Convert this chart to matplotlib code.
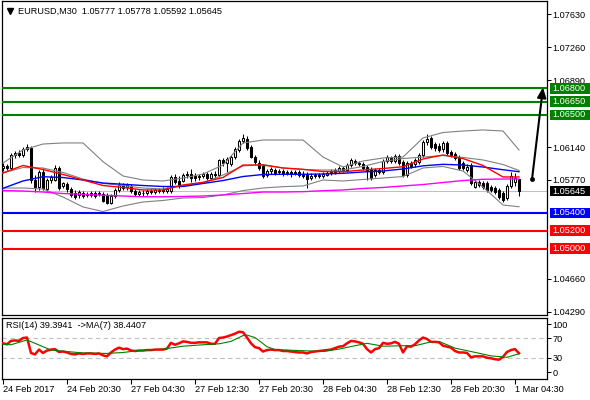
import matplotlib
matplotlib.use('Agg')
import matplotlib.pyplot as plt
from matplotlib.patches import Rectangle
from matplotlib.lines import Line2D
import matplotlib.transforms as mtransforms
import numpy as np

# ---------------- data ----------------
symbol = "EURUSD,M30"
opens = [1.05905, 1.05927, 1.05905, 1.06051, 1.06073, 1.06051, 1.06118, 1.06129, 1.05770, 1.05691,
         1.05860, 1.05669, 1.05770, 1.05770, 1.05905, 1.05703, 1.05725, 1.05669, 1.05624, 1.05602,
         1.05624, 1.05602, 1.05602, 1.05624, 1.05613, 1.05613, 1.05602, 1.05512, 1.05590, 1.05658,
         1.05714, 1.05691, 1.05703, 1.05646, 1.05613, 1.05624, 1.05624, 1.05646, 1.05635, 1.05646,
         1.05658, 1.05646, 1.05646, 1.05804, 1.05759, 1.05759, 1.05826, 1.05837, 1.05815, 1.05804,
         1.05815, 1.05837, 1.05792, 1.05837, 1.05826, 1.05995, 1.05961, 1.05950, 1.06028, 1.06107,
         1.06208, 1.06230, 1.06141, 1.06028, 1.05961, 1.05927, 1.05826, 1.05871, 1.05882, 1.05860,
         1.05871, 1.05849, 1.05860, 1.05849, 1.05860, 1.05837, 1.05826, 1.05792, 1.05815, 1.05826,
         1.05815, 1.05826, 1.05849, 1.05860, 1.05871, 1.05905, 1.05882, 1.05938, 1.05983, 1.05961,
         1.05950, 1.05916, 1.05894, 1.05826, 1.05882, 1.05860, 1.05983, 1.06017, 1.05983, 1.06040,
         1.05972, 1.05826, 1.05961, 1.05950, 1.05972, 1.06051, 1.06197, 1.06242, 1.06174, 1.06152,
         1.06118, 1.06186, 1.06084, 1.06062, 1.06017, 1.05961, 1.05882, 1.05938, 1.05691, 1.05748,
         1.05736, 1.05736, 1.05691, 1.05680, 1.05658, 1.05624, 1.05568, 1.05703, 1.05748, 1.05777]
highs = [1.05961, 1.05950, 1.06073, 1.06096, 1.06107, 1.06141, 1.06174, 1.06152, 1.05826, 1.05882,
         1.05905, 1.05792, 1.05826, 1.05938, 1.05927, 1.05748, 1.05748, 1.05691, 1.05658, 1.05658,
         1.05646, 1.05635, 1.05646, 1.05646, 1.05646, 1.05635, 1.05624, 1.05613, 1.05680, 1.05748,
         1.05736, 1.05736, 1.05725, 1.05669, 1.05658, 1.05658, 1.05669, 1.05669, 1.05680, 1.05680,
         1.05691, 1.05691, 1.05826, 1.05837, 1.05815, 1.05849, 1.05871, 1.05894, 1.05849, 1.05837,
         1.05860, 1.05860, 1.05860, 1.05871, 1.06006, 1.06017, 1.06028, 1.06051, 1.06141, 1.06230,
         1.06287, 1.06264, 1.06163, 1.06051, 1.05995, 1.05950, 1.05894, 1.05916, 1.05905, 1.05894,
         1.05894, 1.05882, 1.05882, 1.05882, 1.05882, 1.05871, 1.05860, 1.05849, 1.05849, 1.05849,
         1.05860, 1.05871, 1.05894, 1.05905, 1.05927, 1.05927, 1.05961, 1.06017, 1.06006, 1.05983,
         1.05972, 1.05938, 1.05916, 1.05905, 1.05905, 1.06006, 1.06051, 1.06040, 1.06062, 1.06062,
         1.05995, 1.05983, 1.05983, 1.06017, 1.06073, 1.06219, 1.06287, 1.06264, 1.06197, 1.06186,
         1.06208, 1.06208, 1.06107, 1.06084, 1.06051, 1.05983, 1.05950, 1.05961, 1.05770, 1.05770,
         1.05759, 1.05759, 1.05714, 1.05703, 1.05680, 1.05646, 1.05725, 1.05860, 1.05849, 1.05778]
lows = [1.05871, 1.05882, 1.05882, 1.06017, 1.06028, 1.06028, 1.06096, 1.05736, 1.05635, 1.05658,
        1.05658, 1.05646, 1.05736, 1.05759, 1.05658, 1.05680, 1.05635, 1.05579, 1.05557, 1.05568,
        1.05568, 1.05579, 1.05579, 1.05568, 1.05590, 1.05523, 1.05500, 1.05500, 1.05568, 1.05635,
        1.05658, 1.05658, 1.05624, 1.05590, 1.05590, 1.05590, 1.05602, 1.05613, 1.05613, 1.05624,
        1.05624, 1.05624, 1.05624, 1.05725, 1.05680, 1.05748, 1.05792, 1.05748, 1.05759, 1.05770,
        1.05792, 1.05770, 1.05770, 1.05792, 1.05804, 1.05927, 1.05860, 1.05927, 1.06006, 1.06084,
        1.06186, 1.06107, 1.06017, 1.05950, 1.05882, 1.05792, 1.05804, 1.05837, 1.05826, 1.05837,
        1.05815, 1.05826, 1.05804, 1.05826, 1.05804, 1.05792, 1.05680, 1.05770, 1.05792, 1.05792,
        1.05792, 1.05815, 1.05826, 1.05837, 1.05849, 1.05860, 1.05860, 1.05916, 1.05938, 1.05927,
        1.05882, 1.05770, 1.05770, 1.05804, 1.05837, 1.05837, 1.05961, 1.05961, 1.05961, 1.05938,
        1.05804, 1.05804, 1.05905, 1.05916, 1.05950, 1.06028, 1.06163, 1.06118, 1.06096, 1.06084,
        1.06084, 1.06051, 1.06028, 1.05995, 1.05882, 1.05882, 1.05860, 1.05714, 1.05680, 1.05691,
        1.05669, 1.05635, 1.05635, 1.05613, 1.05557, 1.05523, 1.05545, 1.05680, 1.05703, 1.05592]
closes = [1.05927, 1.05905, 1.06051, 1.06073, 1.06051, 1.06118, 1.06141, 1.05770, 1.05691, 1.05860,
          1.05680, 1.05770, 1.05804, 1.05905, 1.05680, 1.05736, 1.05669, 1.05602, 1.05579, 1.05635,
          1.05590, 1.05613, 1.05624, 1.05590, 1.05624, 1.05534, 1.05512, 1.05590, 1.05658, 1.05714,
          1.05680, 1.05714, 1.05646, 1.05613, 1.05635, 1.05620, 1.05646, 1.05635, 1.05658, 1.05658,
          1.05646, 1.05669, 1.05804, 1.05748, 1.05714, 1.05826, 1.05837, 1.05792, 1.05792, 1.05815,
          1.05837, 1.05792, 1.05837, 1.05826, 1.05995, 1.05961, 1.06006, 1.06028, 1.06118, 1.06208,
          1.06242, 1.06129, 1.06028, 1.05972, 1.05905, 1.05815, 1.05871, 1.05894, 1.05849, 1.05871,
          1.05849, 1.05860, 1.05837, 1.05860, 1.05826, 1.05815, 1.05781, 1.05815, 1.05826, 1.05815,
          1.05837, 1.05849, 1.05860, 1.05882, 1.05905, 1.05882, 1.05938, 1.05995, 1.05961, 1.05950,
          1.05905, 1.05871, 1.05792, 1.05882, 1.05860, 1.05983, 1.06028, 1.05983, 1.06040, 1.05961,
          1.05826, 1.05961, 1.05927, 1.05995, 1.06051, 1.06197, 1.06230, 1.06141, 1.06129, 1.06107,
          1.06186, 1.06073, 1.06051, 1.06017, 1.05905, 1.05905, 1.05916, 1.05736, 1.05748, 1.05714,
          1.05691, 1.05658, 1.05658, 1.05635, 1.05579, 1.05545, 1.05703, 1.05815, 1.05792, 1.05645]

# indicator vertices (bar index, price)
ind_idx = [0, 5, 10, 15, 20, 25, 30, 35, 40, 45, 50, 55, 60, 65, 70, 75, 80, 85, 90, 95,
           100, 105, 110, 115, 120, 125, 129]
bb_upper = [1.05961, 1.06107, 1.06174, 1.06186, 1.06186, 1.05976, 1.05815, 1.05770, 1.05759, 1.05792,
            1.05837, 1.05938, 1.06186, 1.06219, 1.06219, 1.06219, 1.06028, 1.05916, 1.05983, 1.06017,
            1.06028, 1.06242, 1.06303, 1.06320, 1.06332, 1.06320, 1.06107]
bb_middle = [1.05849, 1.05910, 1.05905, 1.05854, 1.05781, 1.05731, 1.05708, 1.05680, 1.05669, 1.05708,
             1.05736, 1.05826, 1.05927, 1.05944, 1.05905, 1.05888, 1.05882, 1.05882, 1.05922, 1.05978,
             1.06011, 1.06028, 1.06045, 1.06023, 1.05995, 1.05944, 1.05877]
bb_lower = [1.05680, 1.05680, 1.05669, 1.05579, 1.05467, 1.05416, 1.05478, 1.05523, 1.05540, 1.05568,
            1.05573, 1.05602, 1.05652, 1.05680, 1.05695, 1.05703, 1.05770, 1.05759, 1.05776, 1.05792,
            1.05809, 1.05905, 1.05922, 1.05871, 1.05691, 1.05489, 1.05470]
ma_red = [1.05849, 1.05933, 1.05888, 1.05832, 1.05770, 1.05708, 1.05686, 1.05658, 1.05658, 1.05714,
          1.05744, 1.05798, 1.05938, 1.05938, 1.05905, 1.05890, 1.05865, 1.05863, 1.05882, 1.05899,
          1.05919, 1.06006, 1.06051, 1.06011, 1.05933, 1.05804, 1.05804]
ma_blue = [1.05677, 1.05759, 1.05807, 1.05798, 1.05770, 1.05736, 1.05722, 1.05708, 1.05697, 1.05697,
           1.05731, 1.05764, 1.05809, 1.05832, 1.05834, 1.05834, 1.05837, 1.05845, 1.05860, 1.05871,
           1.05894, 1.05929, 1.05946, 1.05938, 1.05916, 1.05885, 1.05863]
ma_magenta = [1.05652, 1.05646, 1.05635, 1.05618, 1.05609, 1.05599, 1.05590, 1.05582, 1.05582, 1.05585,
              1.05590, 1.05602, 1.05618, 1.05635, 1.05635, 1.05639, 1.05650, 1.05658, 1.05675, 1.05686,
              1.05703, 1.05719, 1.05742, 1.05764, 1.05778, 1.05781, 1.05781]

levels = [1.06800, 1.06650, 1.06500, 1.05400, 1.05200, 1.05000]
level_colors = ['#008000', '#008000', '#008000', '#0000ff', '#ff0000', '#ff0000']

arrow_from = (132.25, 1.05776)
arrow_to = (135.0, 1.06810)

price_ticks = [1.07630, 1.07260, 1.06890, 1.06140, 1.05770, 1.04660, 1.04290]

rsi = [60, 58, 65, 66, 65, 71, 72, 40, 37, 47,
       40, 45, 47, 48, 42, 43, 41, 38, 37, 39,
       38, 39, 39, 38, 39, 35, 33, 41, 47, 51,
       48, 49, 45, 44, 45, 45, 46, 46, 47, 47,
       47, 49, 61, 57, 60, 64, 63, 61, 61, 62,
       62, 62, 59, 59, 71, 72, 74, 77, 80, 84,
       83, 72, 60, 52, 50, 43, 46, 47, 46, 46,
       44, 44, 43, 42, 41, 41, 39, 42, 43, 44,
       45, 46, 47, 50, 53, 54, 60, 65, 64, 62,
       59, 48, 41, 48, 50, 61, 59, 60, 63, 59,
       41, 54, 53, 58, 66, 72, 69, 63, 63, 62,
       55, 53, 51, 44, 41, 41, 40, 31, 33, 33,
       33, 30, 29, 27, 26, 32, 42, 46, 48, 39.3941]
rsi_ma_idx = [0, 2, 6, 12, 16, 20, 26, 30, 34, 40, 45, 50, 54, 57, 60, 61, 63, 66, 68, 74,
              80, 84, 88, 91, 95, 100, 103, 107, 109, 113, 117, 122, 126, 129]
rsi_ma_val = [58, 57, 67, 46, 43, 40, 39, 41, 45, 48, 54, 57, 59, 64, 76, 77, 72, 53, 47, 45,
              43, 48, 55, 60, 54, 55, 55, 63, 64, 50, 43, 34, 31, 38.4407]
rsi_ticks = [100, 70, 30, 0]

time_ticks = [0, 16, 32, 48, 64, 80, 96, 112, 128]
time_labels = ["24 Feb 2017", "24 Feb 20:30", "27 Feb 04:30", "27 Feb 12:30", "27 Feb 20:30",
               "28 Feb 04:30", "28 Feb 12:30", "28 Feb 20:30", "1 Mar 04:30"]

# ---------------- figure ----------------
W, H = 590, 400
plt.rcParams['font.family'] = ['Liberation Sans', 'DejaVu Sans']
FS = 6.6
fig = plt.figure(figsize=(W / 100, H / 100), dpi=100)
fig.patch.set_facecolor('white')

def fx(px):
    return px / W

def fy(py):
    return 1 - py / H

ax = fig.add_axes([fx(2), fy(315), fx(547) - fx(2), fy(1) - fy(315)])
axr = fig.add_axes([fx(2), fy(379), fx(547) - fx(2), fy(318) - fy(379)])

for a in (ax, axr):
    for s in a.spines.values():
        s.set_color('black')
        s.set_linewidth(0.9)
    a.set_facecolor('white')

n = len(opens)
xs = np.arange(n)
ax.set_xlim(-0.25, 136)
ax.set_ylim(1.04254, 1.07780)

# bid line
ax.axhline(closes[-1], color='#c0c0c0', lw=0.75, zorder=1)

# candles
for i in range(n):
    o, h, l, c = opens[i], highs[i], lows[i], closes[i]
    ax.vlines(i, l, h, color='black', lw=0.75, zorder=3)
    bottom = min(o, c)
    height = max(abs(c - o), 0.00002)
    fc = 'white' if c > o else 'black'
    ax.add_patch(Rectangle((i - 0.25, bottom), 0.5, height, facecolor=fc,
                           edgecolor='black', lw=0.75, zorder=4))

# indicators
ax.plot(ind_idx, bb_upper, color='#808080', lw=0.8, zorder=5)
ax.plot(ind_idx, bb_middle, color='#808080', lw=0.8, zorder=5)
ax.plot(ind_idx, bb_lower, color='#808080', lw=0.8, zorder=5)
ax.plot(ind_idx, ma_magenta, color='#ff00ff', lw=1.0, zorder=5)
ax.plot(ind_idx, ma_blue, color='#0000ff', lw=1.0, zorder=5)
ax.plot(ind_idx, ma_red, color='#ff0000', lw=1.0, zorder=5)

# levels
for lv, col in zip(levels, level_colors):
    ax.axhline(lv, color=col, lw=1.5, zorder=6)

# arrow
ax.annotate('', xy=arrow_to, xytext=arrow_from,
            arrowprops=dict(arrowstyle='-|>,head_length=0.5,head_width=0.22',
                            color='black', lw=1.5, mutation_scale=12, shrinkA=0, shrinkB=0),
            annotation_clip=False, zorder=8)
ax.plot([arrow_from[0]], [arrow_from[1]], marker='o', ms=2.5, color='black', zorder=8)

# price axis
ax.yaxis.tick_right()
ax.set_yticks(price_ticks, [f'{v:.5f}' for v in price_ticks])
ax.tick_params(axis='y', direction='out', length=2.9, width=0.75, pad=1.2, labelsize=FS)
ax.set_xticks([])

# level label boxes
blend = mtransforms.blended_transform_factory(fig.transFigure, ax.transData)
half = 0.00060
box_items = list(zip(levels, level_colors)) + [(closes[-1], '#000000')]
for lv, col in box_items:
    ax.add_patch(Rectangle((fx(549.5), lv - half), fx(40), 2 * half, transform=blend,
                           facecolor=col, edgecolor='none', clip_on=False, zorder=10))
    ax.text(fx(552.5), lv, f'{lv:.5f}', transform=blend, color='white', fontsize=FS,
            va='center', ha='left', zorder=11, clip_on=False)

# title
fig.add_artist(Line2D([fx(9.5)], [fy(11)], marker='v', ms=4, color='black',
                      transform=fig.transFigure))
fig.text(fx(17.5), fy(11.3),
         f'{symbol}  {opens[-1]:.5f} {highs[-1]:.5f} {lows[-1]:.5f} {closes[-1]:.5f}',
         fontsize=FS, va='center', ha='left')

# RSI panel
axr.set_xlim(-0.25, 136)
axr.set_ylim(-14, 112.5)
axr.axhline(70, color='#c0c0c0', lw=0.8, ls=(0, (4, 3)), zorder=1)
axr.axhline(30, color='#c0c0c0', lw=0.8, ls=(0, (4, 3)), zorder=1)
axr.plot(xs, rsi, color='#ff0000', lw=1.8, zorder=3)
axr.plot(rsi_ma_idx, rsi_ma_val, color='#008000', lw=0.8, zorder=4)
axr.yaxis.tick_right()
axr.set_yticks(rsi_ticks, [str(v) for v in rsi_ticks])
axr.tick_params(axis='y', direction='out', length=2.9, width=0.75, pad=1.2, labelsize=FS)
axr.set_xticks(time_ticks, time_labels)
for lab in axr.get_xticklabels():
    lab.set_horizontalalignment('left')
axr.tick_params(axis='x', direction='out', length=3.6, width=0.75, pad=0.6, labelsize=FS)
axr.text(0.008, 0.87, f'RSI(14) {rsi[-1]:.4f}  ->MA(7) {rsi_ma_val[-1]:.4f}',
         transform=axr.transAxes, fontsize=FS, va='center', ha='left')

fig.savefig('out.png', dpi=100, facecolor='white')
